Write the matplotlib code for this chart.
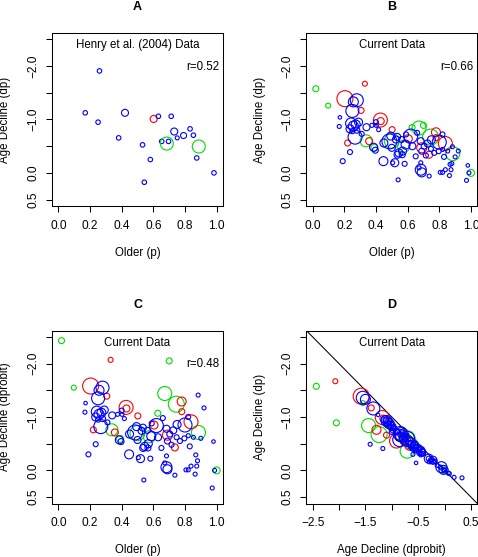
import numpy as np
import matplotlib.pyplot as plt

plt.rcParams['font.family'] = ['Liberation Sans', 'DejaVu Sans']

# ---- Panel A: Henry et al. (2004) data ----
henry_p = [0.170, 0.260, 0.251, 0.421, 0.381, 0.602, 0.632, 0.713, 0.532, 0.581, 0.543,
           0.653, 0.696, 0.685, 0.732, 0.751, 0.791, 0.832, 0.853, 0.887, 0.874, 0.983]
henry_dp = [-1.125, -1.91, -0.95, -1.125, -0.656, -1.01, -1.06, -1.06, -0.525, -0.25, 0.175,
            -0.59, -0.59, -0.55, -0.775, -0.656, -0.70, -0.825, -0.706, -0.494, -0.28, 0.0]
henry_size = [4.5, 4.5, 4.5, 7, 4.5, 7, 4.5, 4.5, 4.5, 4.5, 4.5,
              4.5, 4.5, 13, 7, 4, 6, 4.5, 4.5, 13, 4.5, 4.5]
henry_group = ['b', 'b', 'b', 'b', 'b', 'r', 'b', 'b', 'b', 'b', 'b',
               'b', 'b', 'g', 'b', 'b', 'b', 'b', 'b', 'g', 'b', 'b']

# ---- Panels B-D: current data ----
older_p = [0.02, 0.098, 0.338, 0.39, 0.50, 0.672, 0.745, 0.70, 0.885, 1.0, 0.575, 0.628,
           0.33, 0.204, 0.306, 0.221, 0.357, 0.428, 0.43, 0.502, 0.604, 0.779, 0.78, 0.838,
           0.689, 0.736,
           0.279, 0.251, 0.257, 0.172, 0.168, 0.243, 0.257, 0.272, 0.236, 0.279, 0.251, 0.268,
           0.236, 0.19, 0.34, 0.385, 0.396, 0.374, 0.402, 0.417, 0.447, 0.485, 0.519, 0.54,
           0.534, 0.562, 0.587, 0.545, 0.566, 0.619, 0.63, 0.581, 0.80, 0.683, 0.704, 0.726,
           0.747, 0.689, 0.768, 0.796, 0.715, 0.821, 0.853, 0.651, 0.683, 0.672, 0.683, 0.689,
           0.736, 0.806, 0.821, 0.838, 0.868, 0.879, 0.874, 0.864, 0.92, 0.883, 0.98, 0.972,
           0.987, 0.45, 0.59, 0.494, 0.526, 0.50, 0.568, 0.536, 0.505, 0.66, 0.75, 0.82,
           0.83, 0.90, 0.40, 0.29, 0.31]
decline_dp = [-1.575, -1.26, -0.60, -0.47, -0.60, -0.84, -0.67, -0.89, -0.36, 0.0, -0.50, -0.85,
              -1.67, -1.39, -1.17, -0.56, -0.594, -0.99, -0.97, -0.81, -0.64, -0.76, -0.66, -0.55,
              -0.47, -0.34,
              -1.36, -1.16, -1.33, -1.04, -0.87, -0.925, -0.875, -0.906, -0.825, -0.80, -0.78, -0.67,
              -0.39, -0.22, -0.856, -0.48, -0.425, -0.89, -0.89, -0.81, -0.22, -0.59, -0.19, 0.13,
              -0.675, -0.625, -0.53, -0.375, -0.34, -0.69, -0.50, -0.17, -0.575, -0.594, -0.50, -0.55,
              -0.45, -0.406, -0.375, -0.406, -0.325, -0.44, -0.41, -0.31, -0.19, -0.094, -0.06, -0.01,
              0.06, -0.01, -0.01, -0.06, -0.16, -0.175, -0.06, 0.05, -0.41, -0.49, -0.14, 0.14,
              0.0, -0.56, -0.72, -0.69, -0.625, -0.47, -0.41, -0.34, -0.19, -0.75, -0.62, -0.72,
              -0.30, -0.30, -0.95, -0.95, -0.73]
decline_dprobit = [-2.43, -1.55, -0.76, -0.59, -0.70, -1.44, -1.24, -2.05, -0.71, 0.0, -0.63, -1.07,
                   -2.07, -1.58, -1.39, -0.76, -0.71, -1.18, -1.16, -1.02, -0.85, -1.29, -1.10, -0.91,
                   -0.66, -0.43,
                   -1.55, -1.35, -1.50, -1.26, -1.09, -1.10, -1.05, -1.08, -1.00, -0.97, -0.95, -0.82,
                   -0.49, -0.30, -1.03, -0.57, -0.54, -1.05, -1.05, -0.97, -0.30, -0.71, -0.22, 0.18,
                   -0.80, -0.75, -0.64, -0.45, -0.42, -0.84, -0.62, -0.22, -0.85, -0.78, -0.68, -0.75,
                   -0.62, -0.55, -0.55, -0.60, -0.48, -0.65, -0.62, -0.42, -0.27, -0.14, -0.06, -0.02,
                   0.09, -0.01, -0.01, -0.08, -0.29, -0.18, -0.08, 0.07, -1.17, -1.41, -0.54, 0.33,
                   0.0, -0.68, -0.88, -0.82, -0.74, -0.57, -0.50, -0.42, -0.24, -0.98, -0.86, -1.00,
                   -0.45, -0.60, -1.12, -1.13, -0.90]
point_size = [6, 5, 12, 7, 15, 14, 16, 6, 14, 7, 12, 6,
              5, 16, 6, 6, 7, 14, 7, 6, 8, 9, 6, 14,
              10, 7,
              13, 13, 10, 3.5, 4, 11, 10, 9, 8, 6, 5, 14,
              5, 5, 7, 8, 6, 4, 4, 4, 9, 15, 8, 4,
              7, 6, 9, 8, 6, 14, 7, 5, 14, 7, 6, 7,
              5, 6, 5, 5, 5, 4, 4, 5, 4, 4, 11, 9,
              4, 4, 4, 4, 4, 4, 4, 4, 4, 4, 3.5, 4,
              4, 8, 5, 8, 7, 7, 8, 7, 4, 5, 8, 5,
              5, 4, 5, 8, 5]
point_group = ['g'] * 12 + ['r'] * 14 + ['b'] * 77

COLORS = {'b': '#0000FF', 'r': '#FF0000', 'g': '#00DD00'}
DPI = 100
FS = 8.3
TICK_FS = 8.6

fig = plt.figure(figsize=(4.78, 5.57), dpi=DPI)
W, H = 171 / 478, 173 / 557
ax_a = fig.add_axes([52 / 478, 1 - 206 / 557, W, H])
ax_b = fig.add_axes([306.3 / 478, 1 - 206 / 557, W, H])
ax_c = fig.add_axes([52 / 478, 1 - 503.5 / 557, W, H])
ax_d = fig.add_axes([306.3 / 478, 1 - 503.5 / 557, W, H])


def circles(ax, x, y, sizes, groups):
    s = [(d * 72 / DPI) ** 2 for d in sizes]
    ax.scatter(x, y, s=s, facecolors='none', edgecolors=[COLORS[g] for g in groups],
               linewidths=0.8, zorder=3)


def setup(ax, title, xlabel, ylabel, xticks, xticklabels):
    yt = [-2.5, -2.0, -1.5, -1.0, -0.5, 0.0, 0.5]
    ax.set_ylim(0.62, -2.62)
    ax.set_yticks(yt)
    ax.set_yticklabels(['', '\u22122.0', '', '\u22121.0', '', '0.0', '0.5'],
                       rotation=90, va='center', fontsize=TICK_FS)
    ax.set_xticks(xticks)
    ax.set_xticklabels(xticklabels, fontsize=TICK_FS)
    ax.tick_params(direction='out', length=4, width=0.75, color='black')
    ax.tick_params(axis='x', pad=6)
    ax.tick_params(axis='y', pad=5)
    for sp in ax.spines.values():
        sp.set_linewidth(0.75)
        sp.set_color('black')
    ax.text(0.5, 1 + 26 / 173, title, transform=ax.transAxes, ha='center', va='center',
            fontsize=9, fontweight='bold')
    ax.text(0.5, -47 / 173, xlabel, transform=ax.transAxes, ha='center', va='center', fontsize=FS)
    ax.text(-46.6 / 171, 0.5, ylabel, transform=ax.transAxes, ha='center', va='center',
            rotation=90, fontsize=FS)


p_ticks = [0.0, 0.2, 0.4, 0.6, 0.8, 1.0]
p_labels = ['0.0', '0.2', '0.4', '0.6', '0.8', '1.0']

# A
circles(ax_a, henry_p, henry_dp, henry_size, henry_group)
ax_a.set_xlim(-0.04, 1.04)
setup(ax_a, 'A', 'Older (p)', 'Age Decline (dp)', p_ticks, p_labels)
ax_a.text(0.5, -2.4, 'Henry et al. (2004) Data', ha='center', va='center', fontsize=FS)
ax_a.text(1.015, -1.99, 'r=0.52', ha='right', va='center', fontsize=FS)

# B
circles(ax_b, older_p, decline_dp, point_size, point_group)
ax_b.set_xlim(-0.04, 1.04)
setup(ax_b, 'B', 'Older (p)', 'Age Decline (dp)', p_ticks, p_labels)
ax_b.text(0.5, -2.39, 'Current Data', ha='center', va='center', fontsize=FS)
ax_b.text(1.015, -1.99, 'r=0.66', ha='right', va='center', fontsize=FS)

# C
circles(ax_c, older_p, decline_dprobit, point_size, point_group)
ax_c.set_xlim(-0.04, 1.04)
setup(ax_c, 'C', 'Older (p)', 'Age Decline (dprobit)', p_ticks, p_labels)
ax_c.text(0.5, -2.39, 'Current Data', ha='center', va='center', fontsize=FS)
ax_c.text(1.015, -1.99, 'r=0.48', ha='right', va='center', fontsize=FS)

# D
circles(ax_d, decline_dprobit, decline_dp, point_size, point_group)
ax_d.set_xlim(-2.62, 0.62)
ax_d.axline((0, 0), slope=1, color='black', linewidth=0.75, zorder=2)
setup(ax_d, 'D', 'Age Decline (dprobit)', 'Age Decline (dp)',
      [-2.5, -2.0, -1.5, -1.0, -0.5, 0.0, 0.5],
      ['\u22122.5', '', '\u22121.5', '', '\u22120.5', '', '0.5'])
ax_d.text(-1.0, -2.39, 'Current Data', ha='center', va='center', fontsize=FS)

fig.savefig('out.png', dpi=DPI)
